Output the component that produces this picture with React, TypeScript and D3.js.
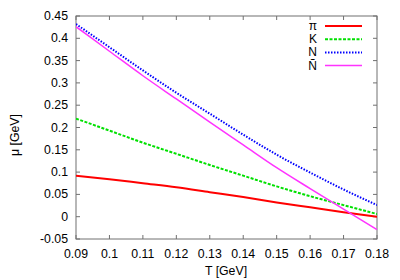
import React from "react";
import { scaleLinear, line, curveMonotoneX } from "d3";

// temperatures in GeV
const temps = [0.09, 0.1, 0.11, 0.12, 0.13, 0.14, 0.15, 0.16, 0.17, 0.18];

// chemical potentials mu [GeV]
const pion = [0.092, 0.084, 0.075, 0.066, 0.055, 0.044, 0.032, 0.021, 0.01, 0.0];
const kaon = [0.22, 0.193, 0.166, 0.141, 0.116, 0.092, 0.068, 0.046, 0.026, 0.006];
const nucleon = [0.432, 0.38, 0.328, 0.278, 0.231, 0.184, 0.139, 0.099, 0.061, 0.026];
const antiNucleon = [0.426, 0.371, 0.316, 0.264, 0.212, 0.161, 0.11, 0.063, 0.017, -0.029];

const xTicks = [0.09, 0.1, 0.11, 0.12, 0.13, 0.14, 0.15, 0.16, 0.17, 0.18];
const yTicks = [-0.05, 0, 0.05, 0.1, 0.15, 0.2, 0.25, 0.3, 0.35, 0.4, 0.45];

const series = [
  { label: "π", values: pion, color: "#ff0000", width: 2, dash: "" },
  { label: "K", values: kaon, color: "#00e000", width: 2, dash: "3,1.5" },
  { label: "N", values: nucleon, color: "#0000ff", width: 2, dash: "1.5,1.5" },
  { label: "Ñ", values: antiNucleon, color: "#ff33ff", width: 1.5, dash: "" },
];

const W = 400;
const H = 280;
const left = 76;
const right = 377;
const top = 16;
const bottom = 239;
const font = "'Liberation Sans', Arial, sans-serif";
const axisColor = "#707070";

export default function App() {
  const x = scaleLinear().domain([0.09, 0.18]).range([left, right]);
  const y = scaleLinear().domain([-0.05, 0.45]).range([bottom, top]);

  const tickLen = 4;

  return (
    <svg
      width={W}
      height={H}
      style={{ position: "fixed", left: 0, top: 0, background: "#fff" }}
      fontFamily={font}
      fontSize={12.3}
    >
      <defs>
        <clipPath id="plot">
          <rect x={left} y={top} width={right - left} height={bottom - top} />
        </clipPath>
      </defs>

      {/* frame */}
      <rect
        x={left}
        y={top}
        width={right - left}
        height={bottom - top}
        fill="none"
        stroke={axisColor}
        strokeWidth={1}
      />

      {/* x ticks */}
      {xTicks.map((t) => (
        <g key={"x" + t}>
          <line x1={x(t)} x2={x(t)} y1={bottom} y2={bottom - tickLen} stroke={axisColor} />
          <line x1={x(t)} x2={x(t)} y1={top} y2={top + tickLen} stroke={axisColor} />
          <text x={x(t)} y={258} textAnchor="middle" fill="#000">
            {String(t)}
          </text>
        </g>
      ))}

      {/* y ticks */}
      {yTicks.map((t) => (
        <g key={"y" + t}>
          <line x1={left} x2={left + tickLen} y1={y(t)} y2={y(t)} stroke={axisColor} />
          <line x1={right} x2={right - tickLen} y1={y(t)} y2={y(t)} stroke={axisColor} />
          <text x={68} y={y(t) + 4} textAnchor="end" fill="#000">
            {String(t)}
          </text>
        </g>
      ))}

      {/* axis titles */}
      <text x={226} y={275} textAnchor="middle" fill="#000">
        T [GeV]
      </text>
      <text
        transform={`translate(19,135) rotate(-90)`}
        textAnchor="middle"
        fill="#000"
      >
        μ [GeV]
      </text>

      {/* curves */}
      <g clipPath="url(#plot)">
        {series.map((s) => {
          const path = line<number>()
            .x((_, i) => x(temps[i]))
            .y((d) => y(d))
            .curve(curveMonotoneX)(s.values);
          return (
            <path
              key={s.label}
              d={path ?? ""}
              fill="none"
              stroke={s.color}
              strokeWidth={s.width}
              strokeDasharray={s.dash}
            />
          );
        })}
      </g>

      {/* legend */}
      {series.map((s, i) => {
        const ly = 26 + i * 13.2;
        return (
          <g key={"leg" + s.label}>
            <text x={317} y={ly + 4} textAnchor="end" fill="#000" fontSize={12}>
              {s.label}
            </text>
            <line
              x1={325}
              x2={362}
              y1={ly}
              y2={ly}
              stroke={s.color}
              strokeWidth={s.width}
              strokeDasharray={s.dash}
            />
          </g>
        );
      })}
    </svg>
  );
}
